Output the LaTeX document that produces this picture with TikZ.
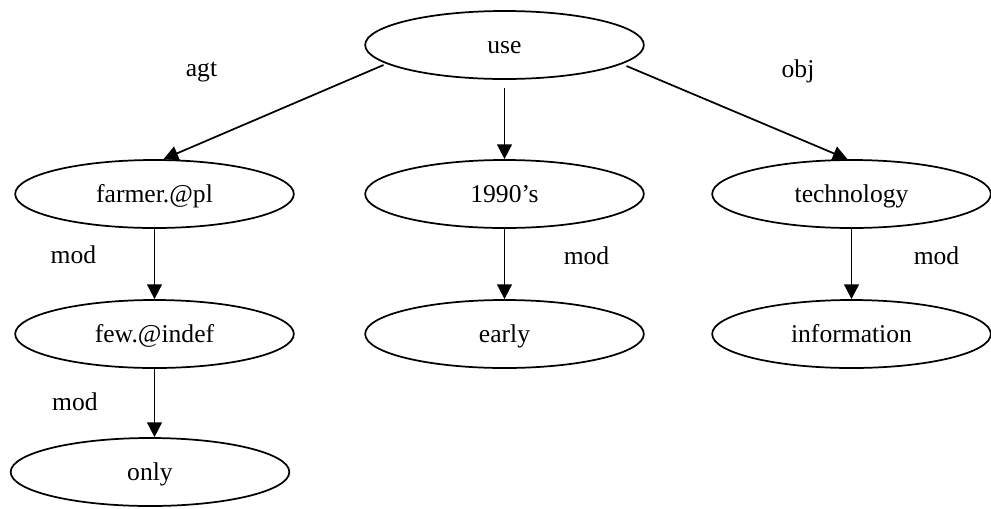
\documentclass[tikz,border=0pt]{standalone}
\usepackage{fontspec}
\setmainfont{Liberation Serif}
\usetikzlibrary{shapes.geometric,arrows.meta,calc}
\begin{document}
\begin{tikzpicture}[x=0.75pt,y=-0.75pt,
  every node/.style={font=\fontsize{19.2}{23}\selectfont},
  ell/.style={draw,ellipse,line width=1.3pt,minimum width=209pt,minimum height=51pt,inner sep=0pt,text height=14pt,text depth=2pt},
  lbl/.style={anchor=base,inner sep=0pt},
  arr/.style={line width=1.3pt,-{Triangle[length=11pt,width=11pt]}}]
\useasboundingbox (0,0) rectangle (991,508);
\node[ell] (use) at (504.5,45) {use};
\node[ell] (farmer) at (154.5,194) {farmer.@pl};
\node[ell] (n1990) at (504.5,194) {1990’s};
\node[ell] (tech) at (851.5,194) {technology};
\node[ell] (few) at (154.5,334) {few.@indef};
\node[ell] (early) at (504.5,334) {early};
\node[ell] (info) at (851.5,334) {information};
\node[ell] (only) at (150,472) {only};
\draw[arr] ($(use.center)+(-121,20)$) -- ($(farmer.north)+(9,0)$);
\draw[arr] ($(use.center)+(0,43)$) -- (n1990.north);
\draw[arr] ($(use.center)+(122,21)$) -- ($(tech.north)+(-4,0)$);
\draw[arr] (farmer.south) -- (few.north);
\draw[arr] (few.south) -- ($(only.north)+(4.5,0)$);
\draw[arr] (n1990.south) -- (early.north);
\draw[arr] (tech.south) -- (info.north);
\node[lbl] (lagt) at (201.5,76) {agt};
\node[lbl] (lobj) at (798,77) {obj};
\node[lbl] (lmod1) at (73.5,263) {mod};
\node[lbl] (lmod2) at (586.5,264) {mod};
\node[lbl] (lmod3) at (936.5,264) {mod};
\node[lbl] (lmod4) at (75,410) {mod};
\end{tikzpicture}
\end{document}
